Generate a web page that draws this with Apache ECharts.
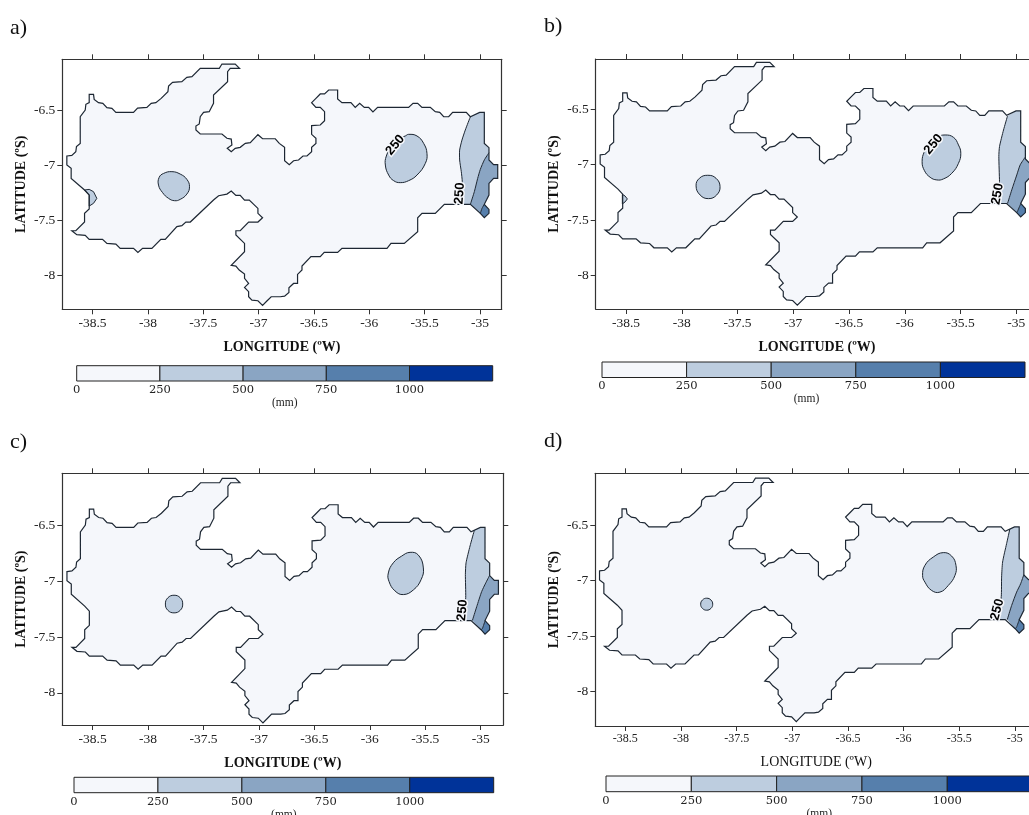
<!DOCTYPE html>
<html>
<head>
<meta charset="utf-8">
<style>html,body{margin:0;padding:0;background:#fff}#c{width:1029px;height:815px;overflow:hidden}</style>
<script src="https://cdn.jsdelivr.net/npm/echarts@6/dist/echarts.min.js"></script>
</head>
<body>
<div id="c"></div>
<script>
// ---------- data (degrees lon / lat, mm) ----------
const lonTicks = [-38.5,-38,-37.5,-37,-36.5,-36,-35.5,-35];
const latTicks = [-6.5,-7,-7.5,-8];
const legendBreaks = [0,250,500,750,1000,1250];
const legendTicks = [0,250,500,750,1000];
const levelColors = ['#F5F7FB','#BDCDDF','#8AA5C3','#567FAC','#003399'];

const stateOutline = [[-38.732,-6.912],[-38.687,-6.906],[-38.651,-6.873],[-38.645,-6.827],[-38.611,-6.797],[-38.611,-6.555],[-38.566,-6.494],[-38.56,-6.442],[-38.53,-6.427],[-38.53,-6.352],[-38.491,-6.352],[-38.485,-6.397],[-38.446,-6.427],[-38.407,-6.433],[-38.37,-6.473],[-38.325,-6.479],[-38.289,-6.515],[-38.13,-6.515],[-38.093,-6.476],[-38.009,-6.47],[-37.97,-6.433],[-37.928,-6.427],[-37.88,-6.388],[-37.819,-6.327],[-37.813,-6.276],[-37.777,-6.242],[-37.693,-6.236],[-37.648,-6.197],[-37.602,-6.191],[-37.527,-6.115],[-37.355,-6.115],[-37.331,-6.076],[-37.211,-6.076],[-37.172,-6.115],[-37.256,-6.115],[-37.28,-6.145],[-37.28,-6.236],[-37.407,-6.358],[-37.407,-6.433],[-37.446,-6.509],[-37.497,-6.515],[-37.527,-6.555],[-37.536,-6.621],[-37.566,-6.639],[-37.566,-6.676],[-37.527,-6.712],[-37.331,-6.712],[-37.286,-6.751],[-37.247,-6.758],[-37.241,-6.812],[-37.283,-6.842],[-37.247,-6.873],[-37.211,-6.842],[-37.166,-6.833],[-37.12,-6.797],[-37.075,-6.791],[-37.006,-6.718],[-36.964,-6.755],[-36.849,-6.755],[-36.813,-6.797],[-36.765,-6.833],[-36.765,-6.955],[-36.723,-6.991],[-36.684,-6.955],[-36.639,-6.948],[-36.599,-6.912],[-36.563,-6.912],[-36.521,-6.873],[-36.521,-6.833],[-36.482,-6.797],[-36.482,-6.751],[-36.521,-6.715],[-36.521,-6.636],[-36.443,-6.63],[-36.404,-6.591],[-36.404,-6.509],[-36.443,-6.47],[-36.482,-6.47],[-36.521,-6.427],[-36.482,-6.388],[-36.443,-6.348],[-36.404,-6.348],[-36.367,-6.312],[-36.286,-6.312],[-36.286,-6.394],[-36.247,-6.427],[-36.166,-6.427],[-36.127,-6.47],[-36.087,-6.433],[-36.045,-6.47],[-36.006,-6.47],[-35.967,-6.512],[-35.925,-6.47],[-35.645,-6.47],[-35.605,-6.433],[-35.563,-6.433],[-35.524,-6.47],[-35.449,-6.47],[-35.404,-6.509],[-35.364,-6.515],[-35.328,-6.555],[-35.283,-6.555],[-35.247,-6.515],[-35.124,-6.515],[-35.087,-6.555],[-35.003,-6.515],[-34.961,-6.515],[-34.961,-6.797],[-34.919,-6.836],[-34.919,-6.948],[-34.877,-6.991],[-34.84,-6.991],[-34.84,-7.115],[-34.877,-7.115],[-34.919,-7.161],[-34.919,-7.267],[-34.961,-7.351],[-34.919,-7.397],[-34.919,-7.433],[-34.961,-7.473],[-34.997,-7.433],[-35.087,-7.351],[-35.322,-7.351],[-35.404,-7.433],[-35.524,-7.433],[-35.563,-7.473],[-35.563,-7.6],[-35.684,-7.706],[-35.804,-7.706],[-35.84,-7.751],[-36.247,-7.751],[-36.286,-7.788],[-36.407,-7.788],[-36.443,-7.827],[-36.527,-7.827],[-36.608,-7.912],[-36.608,-7.948],[-36.648,-7.988],[-36.648,-8.07],[-36.684,-8.07],[-36.726,-8.109],[-36.726,-8.151],[-36.765,-8.185],[-36.804,-8.191],[-36.886,-8.191],[-36.925,-8.23],[-36.964,-8.27],[-37.006,-8.227],[-37.06,-8.221],[-37.09,-8.191],[-37.09,-8.145],[-37.127,-8.106],[-37.09,-8.07],[-37.127,-8.024],[-37.127,-7.985],[-37.175,-7.948],[-37.205,-7.912],[-37.247,-7.906],[-37.127,-7.782],[-37.127,-7.706],[-37.205,-7.63],[-37.205,-7.591],[-37.166,-7.591],[-37.09,-7.512],[-37.006,-7.512],[-36.964,-7.473],[-37.006,-7.433],[-37.006,-7.388],[-37.084,-7.312],[-37.127,-7.312],[-37.166,-7.27],[-37.205,-7.27],[-37.247,-7.23],[-37.286,-7.258],[-37.361,-7.273],[-37.407,-7.312],[-37.617,-7.512],[-37.657,-7.512],[-37.693,-7.545],[-37.738,-7.554],[-37.843,-7.67],[-37.883,-7.67],[-37.964,-7.751],[-38.048,-7.751],[-38.09,-7.788],[-38.13,-7.751],[-38.25,-7.751],[-38.289,-7.712],[-38.37,-7.706],[-38.41,-7.67],[-38.53,-7.67],[-38.566,-7.633],[-38.642,-7.627],[-38.687,-7.591],[-38.651,-7.591],[-38.572,-7.512],[-38.572,-7.433],[-38.53,-7.394],[-38.53,-7.267],[-38.572,-7.221],[-38.693,-7.115],[-38.693,-7.024],[-38.732,-6.994]];

// boundary stretches of the eastern coast used to close the bands
const eastUpper = [[-34.919,-6.836],[-34.961,-6.797],[-34.961,-6.515],[-35.003,-6.515]];
const eastLower = [[-34.919,-6.948],[-34.877,-6.991],[-34.84,-6.991],[-34.84,-7.115],[-34.877,-7.115],[-34.919,-7.161],[-34.919,-7.267],[-34.961,-7.351]];
const southTip = [[-34.961,-7.473],[-34.919,-7.433],[-34.919,-7.397]];

// panel a
const aBlobEast = [[-35.675,-6.73],[-35.645,-6.715],[-35.569,-6.73],[-35.509,-6.797],[-35.479,-6.888],[-35.494,-6.979],[-35.569,-7.085],[-35.645,-7.136],[-35.72,-7.154],[-35.78,-7.136],[-35.825,-7.085],[-35.855,-6.994],[-35.846,-6.912],[-35.795,-6.812],[-35.75,-6.761]];
const aBlobMid = [[-37.783,-7.054],[-37.708,-7.076],[-37.648,-7.124],[-37.624,-7.191],[-37.648,-7.258],[-37.708,-7.306],[-37.759,-7.318],[-37.813,-7.297],[-37.867,-7.245],[-37.904,-7.176],[-37.898,-7.106],[-37.858,-7.07]];
const aBlobWest = [[-38.572,-7.221],[-38.53,-7.215],[-38.491,-7.236],[-38.461,-7.297],[-38.491,-7.342],[-38.53,-7.367],[-38.53,-7.267]];
const aC250 = [[-35.087,-6.555],[-35.133,-6.676],[-35.163,-6.767],[-35.184,-6.858],[-35.184,-6.948],[-35.169,-7.054],[-35.16,-7.145],[-35.16,-7.351]];
const aC500 = [[-35.087,-7.351],[-35.051,-7.236],[-35.021,-7.115],[-34.997,-7.033],[-34.961,-6.948],[-34.919,-6.882]];
const aC750 = [[-34.961,-7.351],[-34.982,-7.388],[-34.997,-7.433]];
// panel b
const bBlobEast = [[-35.639,-6.732],[-35.564,-6.753],[-35.519,-6.822],[-35.498,-6.897],[-35.519,-6.988],[-35.579,-7.078],[-35.654,-7.129],[-35.713,-7.138],[-35.773,-7.114],[-35.824,-7.054],[-35.845,-6.973],[-35.824,-6.882],[-35.773,-6.807],[-35.713,-6.753]];
const bBlobMid = [[-37.767,-7.096],[-37.693,-7.123],[-37.657,-7.198],[-37.687,-7.274],[-37.761,-7.307],[-37.836,-7.274],[-37.872,-7.192],[-37.842,-7.123]];
const bBlobWest = [[-38.533,-7.268],[-38.509,-7.283],[-38.488,-7.31],[-38.509,-7.337],[-38.533,-7.355],[-38.533,-7.31]];
const bC250 = [[-35.079,-6.56],[-35.115,-6.687],[-35.151,-6.837],[-35.157,-6.927],[-35.151,-7.153],[-35.151,-7.351]];
const bC500 = [[-35.079,-7.351],[-35.041,-7.228],[-34.996,-7.093],[-34.966,-7.003],[-34.921,-6.933]];
const bC750 = [[-34.96,-7.351],[-34.987,-7.415],[-34.997,-7.433]];
// panel c
const cBlobEast = [[-35.637,-6.739],[-35.562,-6.764],[-35.517,-6.879],[-35.538,-6.985],[-35.607,-7.076],[-35.698,-7.118],[-35.773,-7.085],[-35.827,-7.0],[-35.833,-6.924],[-35.788,-6.833],[-35.713,-6.773]];
const cBlobMid = [[-37.766,-7.124],[-37.71,-7.147],[-37.688,-7.203],[-37.71,-7.259],[-37.766,-7.282],[-37.822,-7.259],[-37.844,-7.203],[-37.822,-7.147]];
const cC250 = [[-35.057,-6.541],[-35.096,-6.682],[-35.132,-6.833],[-35.138,-6.939],[-35.135,-7.145],[-35.15,-7.351]];
const cC500 = [[-35.075,-7.351],[-35.036,-7.227],[-34.991,-7.091],[-34.955,-7.015],[-34.919,-6.945]];
const cC750 = [[-34.96,-7.351],[-34.985,-7.424],[-34.997,-7.433]];
// panel d
const dBlobEast = [[-35.643,-6.747],[-35.568,-6.778],[-35.529,-6.862],[-35.538,-6.952],[-35.598,-7.043],[-35.673,-7.103],[-35.748,-7.088],[-35.808,-7.013],[-35.829,-6.952],[-35.808,-6.862],[-35.733,-6.787]];
const dBlobMid = [[-37.769,-7.158],[-37.731,-7.174],[-37.715,-7.212],[-37.731,-7.25],[-37.769,-7.266],[-37.807,-7.25],[-37.823,-7.212],[-37.807,-7.174]];
const dC250 = [[-35.045,-6.535],[-35.074,-6.666],[-35.11,-6.832],[-35.119,-6.968],[-35.122,-7.143],[-35.15,-7.351]];
const dC500 = [[-35.068,-7.351],[-35.029,-7.224],[-34.984,-7.103],[-34.948,-7.028],[-34.919,-6.945]];
const dC750 = [[-34.96,-7.351],[-34.985,-7.42],[-34.997,-7.433]];

const panels = [
 {tag:'a)',tagX:10,tagY:17,left:62.3,top:59.3,w:439.4,h:250,xr:[-38.773,-34.804],yr:[-8.305,-6.033],
  blobs:[aBlobEast,aBlobMid],west:aBlobWest,c250:aC250,c500:aC500,c750:aC750,
  labels:[[-35.765,-6.812,50],[-35.184,-7.251,86]],xTitleBold:true,xFont:13.5,xGap:31,
  bar:{left:76.7,w:416,top:365.7,h:15.3,nameOff:0}},
 {tag:'b)',tagX:544,tagY:15,left:595.7,top:59,w:442.5,h:250,xr:[-38.772,-34.804],yr:[-8.304,-6.0456],
  blobs:[bBlobEast,bBlobMid],west:bBlobWest,c250:bC250,c500:bC500,c750:bC750,
  labels:[[-35.743,-6.816,50],[-35.169,-7.265,80]],xTitleBold:true,xFont:13.5,xGap:31,
  bar:{left:602,w:423,top:362,h:15.5,nameOff:14}},
 {tag:'c)',tagX:10,tagY:431,left:62.3,top:473.3,w:441,h:251.7,xr:[-38.774,-34.796],yr:[-8.288,-6.03],
  blobs:[cBlobEast,cBlobMid],west:null,c250:cC250,c500:cC500,c750:cC750,
  labels:[[-35.165,-7.258,85]],xTitleBold:true,xFont:13.5,xGap:31,
  bar:{left:74,w:419.7,top:777.3,h:15.4,nameOff:0}},
 {tag:'d)',tagX:544,tagY:430,left:595.3,top:473.3,w:441.8,h:252.7,xr:[-38.77,-34.8],yr:[-8.31,-6.032],
  blobs:[dBlobEast,dBlobMid],west:null,c250:dC250,c500:dC500,c750:dC750,
  labels:[[-35.158,-7.26,75]],xTitleBold:false,xFont:12,xGap:29,
  bar:{left:606,w:426.6,top:776,h:15.7,nameOff:0}}
];

// ---------- option building ----------
const SERIF = '"Liberation Serif","Times New Roman",serif';
const INK = '#1d2733', FRAME = '#333';
const grids = [], xAxes = [], yAxes = [], series = [], titles = [];

function addPoly(gi, pts, style, smooth, kind){
  series.push({type:'custom',coordinateSystem:'cartesian2d',xAxisIndex:gi.x,yAxisIndex:gi.y,
    silent:true,animation:false,clip:false,data:pts,
    renderItem:(params,api)=>{
      if(params.dataIndex!==0) return null;
      return {type:kind||'polygon',shape:{points:pts.map(p=>api.coord(p)),smooth:smooth||0},style:style};
    }});
}

panels.forEach(p=>{
  const g = grids.length, xi = xAxes.length, yi = yAxes.length;
  grids.push({left:p.left,top:p.top,width:p.w,height:p.h,show:false,outerBoundsMode:'none'});
  const tickStyle = {show:true,length:5,lineStyle:{color:FRAME,width:1}};
  const lineStyle = {show:true,onZero:false,lineStyle:{color:FRAME,width:1.2}};
  xAxes.push({type:'value',gridIndex:g,position:'bottom',min:p.xr[0],max:p.xr[1],splitLine:{show:false},
    axisLine:lineStyle,axisTick:Object.assign({customValues:lonTicks},tickStyle),
    axisLabel:{customValues:lonTicks,formatter:v=>String(v),margin:7,fontFamily:SERIF,fontSize:p.xFont,color:'#222',hideOverlap:false},
    name:'LONGITUDE (ºW)',nameLocation:'middle',nameGap:p.xGap,
    nameTextStyle:{fontFamily:SERIF,fontSize:14,fontWeight:p.xTitleBold?'bold':'normal',color:'#111'}});
  xAxes.push({type:'value',gridIndex:g,position:'top',min:p.xr[0],max:p.xr[1],splitLine:{show:false},
    axisLine:lineStyle,axisTick:Object.assign({customValues:lonTicks},tickStyle),axisLabel:{show:false}});
  yAxes.push({type:'value',gridIndex:g,position:'left',min:p.yr[0],max:p.yr[1],splitLine:{show:false},
    axisLine:lineStyle,axisTick:Object.assign({customValues:latTicks},tickStyle),
    axisLabel:{customValues:latTicks,formatter:v=>String(v),margin:7,fontFamily:SERIF,fontSize:13.5,color:'#222',hideOverlap:false},
    name:'LATITUDE (ºS)',nameLocation:'middle',nameGap:34,nameRotate:90,
    nameTextStyle:{fontFamily:SERIF,fontSize:14,fontWeight:'bold',color:'#111'}});
  yAxes.push({type:'value',gridIndex:g,position:'right',min:p.yr[0],max:p.yr[1],splitLine:{show:false},
    axisLine:lineStyle,axisTick:Object.assign({customValues:latTicks},tickStyle),axisLabel:{show:false}});
  const gi = {x:xi,y:yi};

  // filled classes
  addPoly(gi,stateOutline,{fill:levelColors[0]});
  addPoly(gi,p.c250.concat(p.c500,eastUpper),{fill:levelColors[1]});
  addPoly(gi,p.c500.concat(eastLower,p.c750),{fill:levelColors[2]});
  addPoly(gi,p.c750.concat(southTip),{fill:levelColors[3]});
  if(p.west) addPoly(gi,p.west,{fill:levelColors[1],stroke:INK,lineWidth:1});
  p.blobs.forEach(b=>addPoly(gi,b,{fill:levelColors[1],stroke:INK,lineWidth:1},0.45));
  // contour lines
  [p.c250,p.c500,p.c750].forEach(c=>addPoly(gi,c,{fill:'none',stroke:INK,lineWidth:1},0.2,'polyline'));
  // state boundary
  addPoly(gi,stateOutline,{fill:'none',stroke:INK,lineWidth:1.2});
  // contour labels
  series.push({type:'custom',coordinateSystem:'cartesian2d',xAxisIndex:xi,yAxisIndex:yi,silent:true,animation:false,clip:false,
    data:p.labels,
    renderItem:(params,api)=>{
      const l = p.labels[params.dataIndex], c = api.coord([l[0],l[1]]);
      return {type:'text',x:c[0],y:c[1],rotation:l[2]*Math.PI/180,
        style:{text:'250',align:'center',verticalAlign:'middle',font:'bold 13px "Liberation Sans",Arial,sans-serif',
          fill:'#000',stroke:'#F5F7FB',lineWidth:3}};
    }});

  titles.push({text:p.tag,left:p.tagX,top:p.tagY,padding:0,
    textStyle:{fontFamily:SERIF,fontSize:22,fontWeight:'normal',color:'#111'}});

  // colour bar
  const b = p.bar, bg = grids.length, bx = xAxes.length, by = yAxes.length;
  grids.push({left:b.left,top:b.top,width:b.w,height:b.h,show:false,outerBoundsMode:'none'});
  xAxes.push({type:'value',gridIndex:bg,position:'bottom',min:legendBreaks[0],max:legendBreaks[5],
    splitLine:{show:false},axisLine:{show:false},axisTick:{show:false},
    axisLabel:{customValues:legendTicks,formatter:v=>String(v),margin:3,fontFamily:'"DejaVu Serif",serif',fontSize:11.5,color:'#222',hideOverlap:false},
    name:'(mm)',nameLocation:'middle',nameGap:14,
    nameTextStyle:{fontFamily:SERIF,fontSize:11.5,color:'#222',padding:[0,b.nameOff,0,0]}});
  yAxes.push({type:'value',gridIndex:bg,min:0,max:1,show:false});
  const segs = legendBreaks.slice(0,-1).map((v,i)=>[v,legendBreaks[i+1]]);
  series.push({type:'custom',coordinateSystem:'cartesian2d',xAxisIndex:bx,yAxisIndex:by,silent:true,animation:false,clip:false,
    encode:{x:[0,1]},data:segs,
    renderItem:(params,api)=>{
      const a = api.coord([api.value(0),1]), z = api.coord([api.value(1),0]);
      return {type:'rect',shape:{x:a[0],y:a[1],width:z[0]-a[0],height:z[1]-a[1]},
        style:{fill:levelColors[params.dataIndex],stroke:'#222',lineWidth:1}};
    }});
});

const chart = echarts.init(document.getElementById('c'),null,{renderer:'canvas',width:1029,height:815});
chart.setOption({backgroundColor:'#fff',animation:false,title:titles,grid:grids,xAxis:xAxes,yAxis:yAxes,series:series});
</script>
</body>
</html>
